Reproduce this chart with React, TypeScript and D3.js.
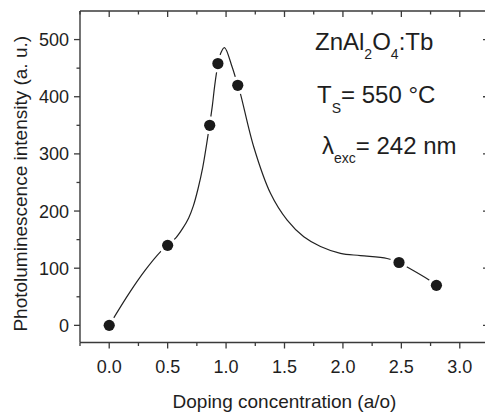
import React from "react";
import * as d3 from "d3";

// Measured data points
const dopingConc = [0, 0.5, 0.86, 0.93, 1.1, 2.48, 2.8];
const plIntensity = [0, 140, 350, 458, 420, 110, 70];

// Smoothed guide curve
const curveX = [0, 0.17, 0.31, 0.44, 0.5, 0.57, 0.63, 0.68, 0.72, 0.76, 0.8, 0.832, 0.86, 0.883, 0.903, 0.93, 0.952, 0.986, 1.052, 1.1, 1.123, 1.237, 1.38, 1.523, 1.665, 1.808, 1.979, 2.15, 2.378, 2.48, 2.543, 2.734, 2.8];
const curveY = [0, 56, 97, 129, 140, 153, 170, 188, 209, 239, 276, 315, 352, 385, 420, 456, 475, 486, 452, 420, 405, 312, 231, 184, 155, 138, 126, 122, 117, 110, 103, 80, 70];

const xMajorTicks = [0, 0.5, 1, 1.5, 2, 2.5, 3];
const xTickLabels = ["0.0", "0.5", "1.0", "1.5", "2.0", "2.5", "3.0"];
const xMinorTicks = [-0.25, 0.25, 0.75, 1.25, 1.75, 2.25, 2.75, 3.25];
const yMajorTicks = [0, 100, 200, 300, 400, 500];
const yMinorTicks = [50, 150, 250, 350, 450];

const W = 485;
const H = 415;
const L = 80, R = 489, T = 11, B = 342.5;

export default function App() {
  const x = d3.scaleLinear().domain([-0.25, 3.25]).range([L, R]);
  const y = d3.scaleLinear().domain([-30, 550]).range([B, T]);
  const pts: [number, number][] = curveX.map((v, i) => [v, curveY[i]]);
  const line = d3
    .line<[number, number]>()
    .x((d) => x(d[0]))
    .y((d) => y(d[1]))
    .curve(d3.curveCatmullRom.alpha(0.5));
  const axisColor = "#3a3a3a";
  const font = "'Liberation Sans', Arial, sans-serif";
  const textColor = "#1e1e1e";
  return (
    <svg width={W} height={H} style={{ position: "absolute", left: 0, top: 0, background: "#fff" }} fontFamily={font}>
      <rect x={0} y={0} width={W} height={H} fill="#fff" />
      {/* curve */}
      <path d={line(pts) || ""} fill="none" stroke="#222" strokeWidth={1.2} />
      {/* halos for gaps */}
      {dopingConc.map((d, i) => (
        <circle key={"h" + i} cx={x(d)} cy={y(plIntensity[i])} r={9} fill="#fff" />
      ))}
      {dopingConc.map((d, i) => (
        <circle key={"m" + i} cx={x(d)} cy={y(plIntensity[i])} r={5.6} fill="#1a1a1a" />
      ))}
      {/* frame */}
      <g stroke={axisColor} strokeWidth={1.4} fill="none">
        <line x1={L} y1={T} x2={L} y2={B} />
        <line x1={L} y1={B} x2={R} y2={B} />
        <line x1={L} y1={T} x2={R} y2={T} />
        <line x1={R} y1={T} x2={R} y2={B} />
      </g>
      {/* ticks */}
      <g stroke={axisColor} strokeWidth={1.3}>
        {xMajorTicks.map((t) => (
          <g key={"xm" + t}>
            <line x1={x(t)} x2={x(t)} y1={B} y2={B + 6} />
            <line x1={x(t)} x2={x(t)} y1={T} y2={T + 6} />
          </g>
        ))}
        {xMinorTicks.map((t) => (
          <g key={"xn" + t}>
            <line x1={x(t)} x2={x(t)} y1={B} y2={B + 3.5} />
            <line x1={x(t)} x2={x(t)} y1={T} y2={T + 3.5} />
          </g>
        ))}
        {yMajorTicks.map((t) => (
          <g key={"ym" + t}>
            <line x1={L - 6} x2={L} y1={y(t)} y2={y(t)} />
            <line x1={R - 6} x2={R} y1={y(t)} y2={y(t)} />
          </g>
        ))}
        {yMinorTicks.map((t) => (
          <g key={"yn" + t}>
            <line x1={L - 3.5} x2={L} y1={y(t)} y2={y(t)} />
            <line x1={R - 3.5} x2={R} y1={y(t)} y2={y(t)} />
          </g>
        ))}
      </g>
      {/* tick labels */}
      <g fill={textColor} fontSize={18}>
        {xMajorTicks.map((t, i) => (
          <text key={"xl" + t} x={x(t)} y={B + 30} textAnchor="middle">
            {xTickLabels[i]}
          </text>
        ))}
        {yMajorTicks.map((t) => (
          <text key={"yl" + t} x={L - 11} y={y(t)} dy="0.36em" textAnchor="end">
            {t}
          </text>
        ))}
      </g>
      {/* axis titles */}
      <text x={(L + R) / 2} y={408} textAnchor="middle" fontSize={19} fill={textColor}>
        Doping concentration (a/o)
      </text>
      <text transform={`translate(27, ${(T + B) / 2 + 7}) rotate(-90)`} textAnchor="middle" fontSize={19} fill={textColor}>
        Photoluminescence intensity (a. u.)
      </text>
      {/* annotations */}
      <g fill={textColor} fontSize={24}>
        <text x={315} y={50}>
          ZnAl<tspan fontSize={14} dy={9}>2</tspan>
          <tspan dy={-9}>O</tspan>
          <tspan fontSize={14} dy={9}>4</tspan>
          <tspan dy={-9}>:Tb</tspan>
        </text>
        <text x={317} y={103}>
          T<tspan fontSize={14} dy={10}>S</tspan>
          <tspan dy={-10}>= 550 °C</tspan>
        </text>
        <text x={322} y={154}>
          λ<tspan fontSize={14} dy={9}>exc</tspan>
          <tspan dy={-9}>= 242 nm</tspan>
        </text>
      </g>
    </svg>
  );
}
